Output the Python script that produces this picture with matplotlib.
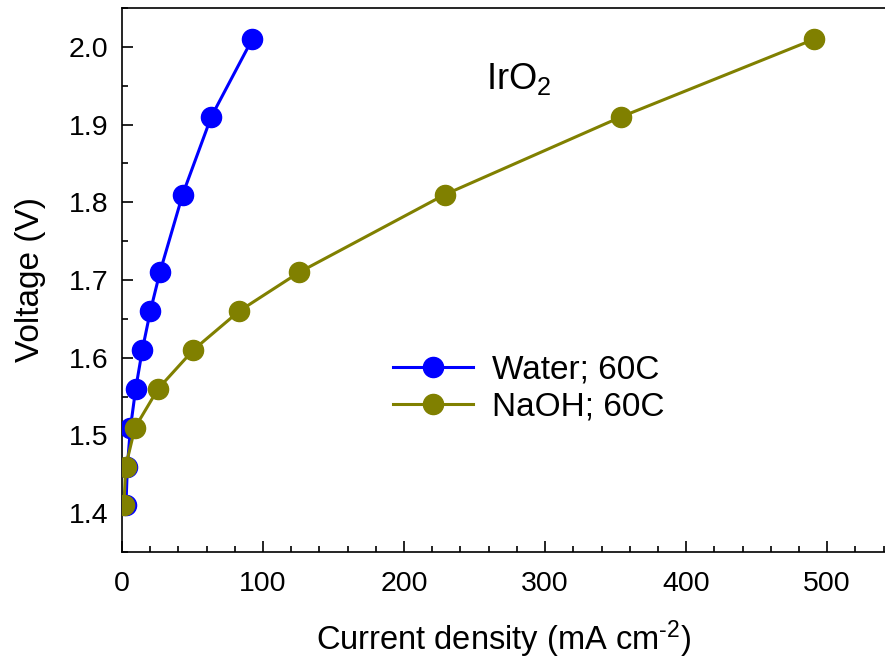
import numpy as np
import matplotlib
matplotlib.use("Agg")
import matplotlib.pyplot as plt
from matplotlib.ticker import MultipleLocator, FormatStrFormatter

plt.rcParams["font.family"] = ["Liberation Sans", "DejaVu Sans"]
plt.rcParams["mathtext.fontset"] = "custom"
plt.rcParams["mathtext.rm"] = "Liberation Sans"
plt.rcParams["mathtext.it"] = "Liberation Sans:italic"
plt.rcParams["mathtext.bf"] = "Liberation Sans:bold"

# polarization curves, IrO2 anode
voltage = [1.41, 1.46, 1.51, 1.56, 1.61, 1.66, 1.71, 1.81, 1.91, 2.01]
j_water = [2.8, 3.8, 6.0, 9.7, 14.4, 20.1, 26.9, 43.0, 63.3, 92.4]
j_naoh = [1.4, 2.6, 9.2, 25.6, 50.6, 83.1, 125.7, 229.0, 354.0, 491.0]

fig = plt.figure(figsize=(8.85, 6.62), dpi=100)
ax = fig.add_axes([122/885, 110/662, 1 - 122/885, 544/662])

ax.plot(j_water, voltage, "-o", color="#0000ff", lw=2.2, ms=14.5,
        label="Water; 60C", zorder=3)
ax.plot(j_naoh, voltage, "-o", color="#808000", lw=2.2, ms=14.5,
        label="NaOH; 60C", zorder=4)

ax.set_xlim(0, 541)
ax.set_ylim(1.35, 2.05)
ax.xaxis.set_major_locator(MultipleLocator(100))
ax.xaxis.set_minor_locator(MultipleLocator(20))
ax.yaxis.set_major_locator(MultipleLocator(0.1))
ax.yaxis.set_minor_locator(MultipleLocator(0.05))
ax.yaxis.set_major_formatter(FormatStrFormatter("%.1f"))

ax.tick_params(which="both", direction="in", top=False, right=False,
               width=1.2, labelsize=20.5)
ax.tick_params(which="major", length=8)
ax.tick_params(which="minor", length=4.5)
ax.tick_params(axis="x", pad=14)
ax.tick_params(axis="y", pad=10)
ax.spines["right"].set_visible(False)
for s in ("left", "bottom", "top"):
    ax.spines[s].set_linewidth(1.2)

ax.set_xlabel(r"Current density (mA cm$^{\text{-2}}$)", fontsize=23.5,
              labelpad=15)
ax.set_ylabel("Voltage (V)", fontsize=24, labelpad=16)

ax.text(258, 1.946, "IrO$_2$", fontsize=26, ha="left", va="baseline")

ax.legend(loc="center left", bbox_to_anchor=(0.333, 0.301), frameon=False,
          fontsize=24, handlelength=2.4, handletextpad=0.58,
          labelspacing=0.18, borderpad=0)

fig.savefig("out.png", dpi=100)
